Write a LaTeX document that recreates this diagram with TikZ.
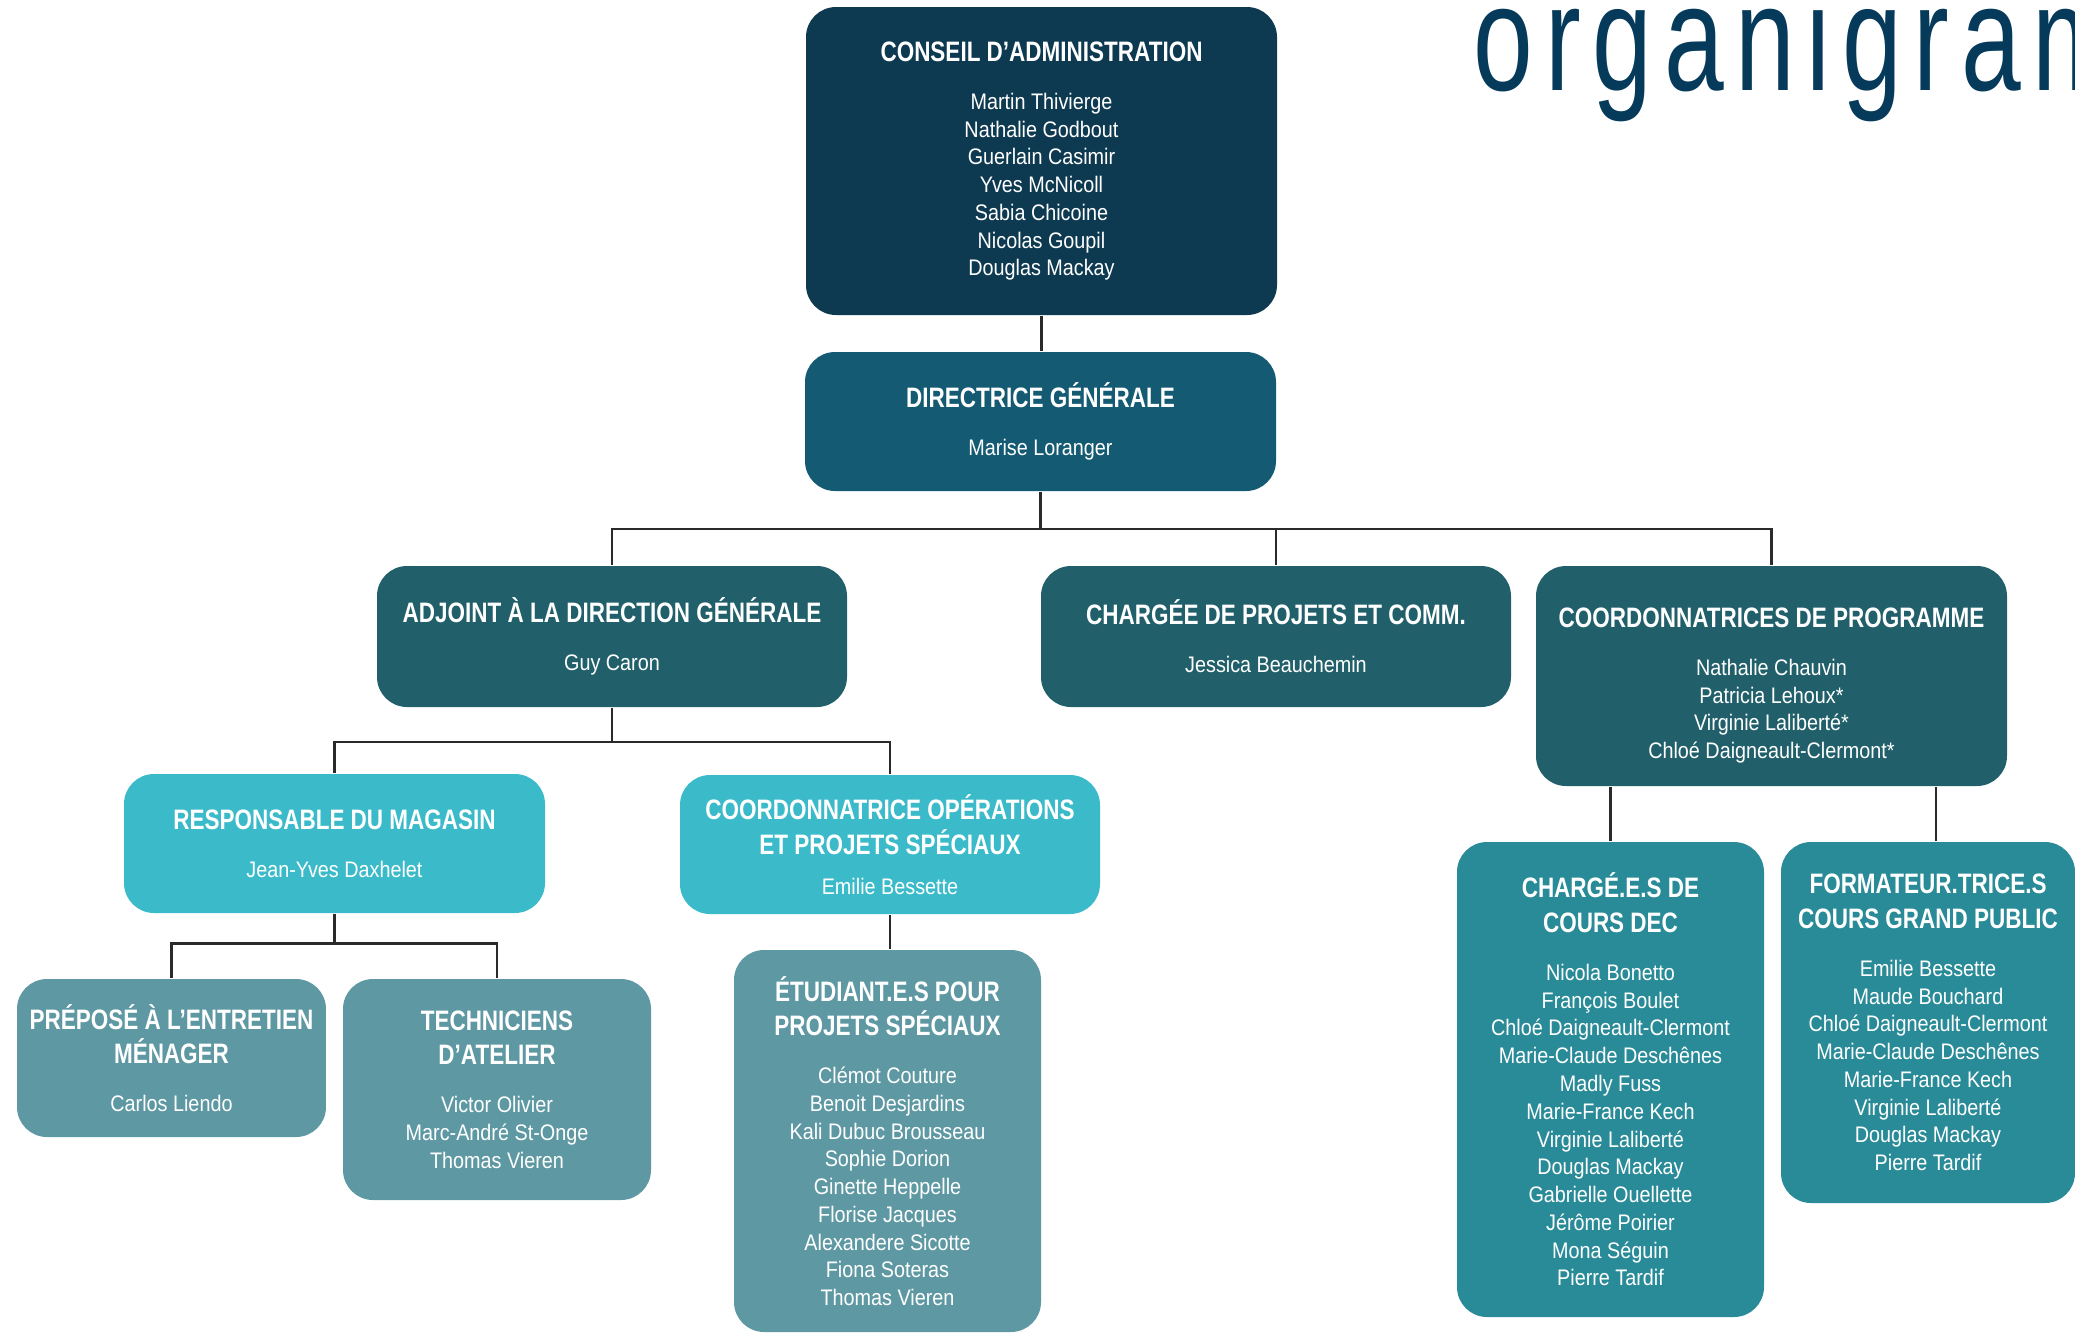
\documentclass[tikz,border=0pt]{standalone}
\usepackage{fontspec}
\setmainfont{Liberation Sans}
\newfontfamily\nomfont{Liberation Sans}[FakeStretch=0.88]
\newfontfamily\ttlfont{Liberation Sans}[FakeStretch=0.8]
\newfontfamily\grandfont{Liberation Sans}[FakeStretch=0.71,LetterSpace=7.8]

\definecolor{cnavy}{HTML}{0E3A51}
\definecolor{cdir}{HTML}{135A72}
\definecolor{cniv}{HTML}{21606A}
\definecolor{ccyan}{HTML}{3BBBCA}
\definecolor{cgris}{HTML}{5E99A3}
\definecolor{cteal}{HTML}{2A8B98}
\definecolor{ctitre}{HTML}{063A5A}
\definecolor{clien}{HTML}{2A2A2A}

\newcommand{\titre}[1]{{\ttlfont\bfseries\fontsize{8}{9.8}\selectfont #1}}

\tikzset{
	boite/.style={rectangle,rounded corners=3mm,inner sep=0pt,align=center,text=white,
		font=\nomfont\fontsize{6.4}{7.9}\selectfont},
	lien/.style={draw=clien,line width=0.6pt}
}

\begin{document}
\begin{tikzpicture}[x=0.1mm,y=-0.1mm]
		\useasboundingbox (0,0) rectangle (2075,1334);
		\node[anchor=base west,inner sep=0pt,text=ctitre,font=\grandfont\fontsize{43}{43}\selectfont] (titre) at (1473,90) {organigramme};

		\node[boite,fill=cnavy,minimum width=47.1mm,minimum height=30.8mm] (conseil) at (1041.5,161) {\titre{CONSEIL D’ADMINISTRATION}\\[5.8pt]
			Martin Thivierge\\ Nathalie Godbout\\ Guerlain Casimir\\ Yves McNicoll\\ Sabia Chicoine\\ Nicolas Goupil\\ Douglas Mackay};
		\node[boite,fill=cdir,minimum width=47.1mm,minimum height=13.9mm] (directrice) at (1040.5,421.5) {\titre{DIRECTRICE GÉNÉRALE}\\[5.8pt] Marise Loranger};

		\node[boite,fill=cniv,minimum width=47mm,minimum height=14.1mm] (adjoint) at (612,636.5) {\titre{ADJOINT À LA DIRECTION GÉNÉRALE}\\[5.8pt] Guy Caron};
		\node[boite,fill=cniv,minimum width=47mm,minimum height=14.1mm] (chargee) at (1276,636.5) {\titre{CHARGÉE DE PROJETS ET COMM.}\\[5.8pt] Jessica Beauchemin};
		\node[boite,fill=cniv,minimum width=47.1mm,minimum height=22mm] (coordprog) at (1771.5,676) {\rule{0pt}{10.9pt}\titre{COORDONNATRICES DE PROGRAMME}\\[5.8pt]
			Nathalie Chauvin\\ Patricia Lehoux*\\ Virginie Laliberté*\\ Chloé Daigneault-Clermont*};

		\node[boite,fill=ccyan,minimum width=42.1mm,minimum height=13.9mm] (magasin) at (334.5,843.5) {\titre{RESPONSABLE DU MAGASIN}\\[5.8pt] Jean-Yves Daxhelet};
		\node[boite,fill=ccyan,minimum width=42mm,minimum height=13.9mm] (coordops) at (890,844.5) {\titre{COORDONNATRICE OPÉRATIONS}\\[1.9pt] \titre{ET PROJETS SPÉCIAUX}\\[3.5pt] Emilie Bessette};

		\node[boite,fill=cgris,minimum width=30.9mm,minimum height=15.8mm] (prepose) at (171.5,1058) {\titre{PRÉPOSÉ À L’ENTRETIEN}\\[1.9pt] \titre{MÉNAGER}\\[5.8pt] Carlos Liendo};
		\node[boite,fill=cgris,minimum width=30.8mm,minimum height=22.1mm] (techniciens) at (497,1089.5) {\titre{TECHNICIENS}\\[1.9pt] \titre{D’ATELIER}\\[5.8pt]
			Victor Olivier\\ Marc-André St-Onge\\ Thomas Vieren};
		\node[boite,fill=cgris,minimum width=30.7mm,minimum height=38.2mm] (etudiants) at (887.5,1141) {\titre{ÉTUDIANT.E.S POUR}\\[1.9pt] \titre{PROJETS SPÉCIAUX}\\[5.8pt]
			Clémot Couture\\ Benoit Desjardins\\ Kali Dubuc Brousseau\\ Sophie Dorion\\ Ginette Heppelle\\ Florise Jacques\\ Alexandere Sicotte\\ Fiona Soteras\\ Thomas Vieren};

		\node[boite,fill=cteal,minimum width=30.7mm,minimum height=47.5mm] (dec) at (1610.5,1079.5) {\titre{CHARGÉ.E.S DE}\\[1.9pt] \titre{COURS DEC}\\[5.8pt]
			Nicola Bonetto\\ François Boulet\\ Chloé Daigneault-Clermont\\ Marie-Claude Deschênes\\ Madly Fuss\\ Marie-France Kech\\ Virginie Laliberté\\ Douglas Mackay\\ Gabrielle Ouellette\\ Jérôme Poirier\\ Mona Séguin\\ Pierre Tardif};
		\node[boite,fill=cteal,minimum width=29.4mm,minimum height=36.1mm] (formateur) at (1928,1022.5) {\titre{FORMATEUR.TRICE.S}\\[1.9pt] \titre{COURS GRAND PUBLIC}\\[5.8pt]
			Emilie Bessette\\ Maude Bouchard\\ Chloé Daigneault-Clermont\\ Marie-Claude Deschênes\\ Marie-France Kech\\ Virginie Laliberté\\ Douglas Mackay\\ Pierre Tardif};

		% liens
		\coordinate (b1) at (1040.5,529);
		\coordinate (b2) at (612,742);
		\coordinate (b3) at (334.5,943.5);
		\draw[lien] (conseil.south) -- (conseil.south |- directrice.north);
		\draw[lien] (directrice.south) -- (b1);
		\draw[lien] (b1) -| (adjoint.north);
		\draw[lien] (b1) -| (chargee.north);
		\draw[lien] (b1) -| (coordprog.north);
		\draw[lien] (adjoint.south) -- (b2);
		\draw[lien] (b2) -| (magasin.north);
		\draw[lien] (b2) -| (coordops.north);
		\draw[lien] (magasin.south) -- (b3);
		\draw[lien] (b3) -| (prepose.north);
		\draw[lien] (b3) -| (techniciens.north);
		\draw[lien] (coordops.south) -- (coordops.south |- etudiants.north);
		\draw[lien] (dec.north) -- (dec.north |- coordprog.south);
		\draw[lien] ([xshift=0.8mm]formateur.north) -- ([xshift=0.8mm]formateur.north |- coordprog.south);
	\end{tikzpicture}
\end{document}
